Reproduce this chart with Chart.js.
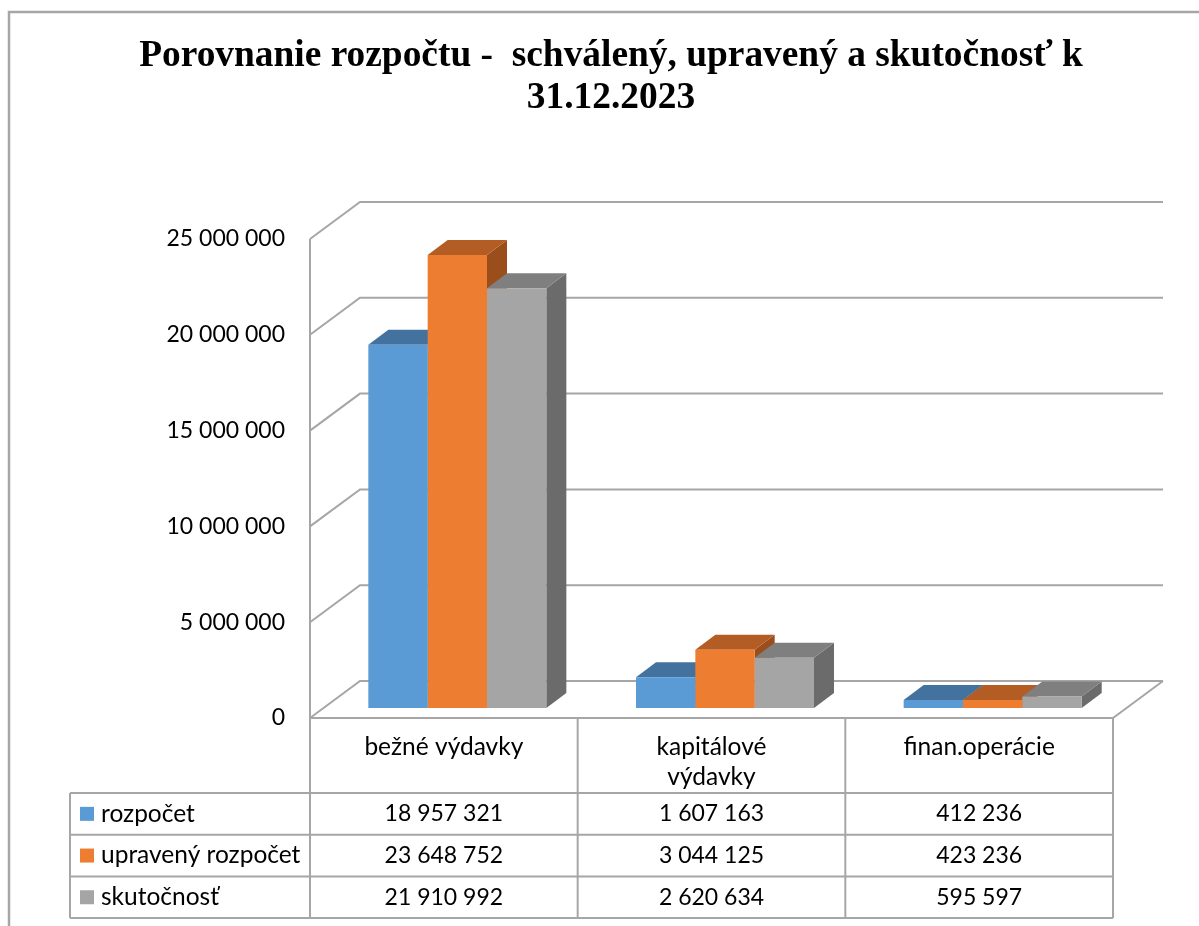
<!DOCTYPE html>
<html>
<head>
<meta charset="utf-8">
<title>Porovnanie rozpočtu</title>
<script src="https://cdn.jsdelivr.net/npm/chart.js@4.4.1/dist/chart.umd.min.js"></script>
<style>
  html, body { margin: 0; padding: 0; background: #fff; }
  #wrap { width: 1199px; height: 926px; }
</style>
</head>
<body>
<div id="wrap"><canvas id="budgetChart" width="1199" height="926"></canvas></div>
<script>
/* Porovnanie rozpočtu — 3D stĺpcový graf s dátovou tabuľkou */
var categories = ['bežné výdavky', ['kapitálové', 'výdavky'], 'finan.operácie'];
var seriesNames = ['rozpočet', 'upravený rozpočet', 'skutočnosť'];
var rozpocet = [18957321, 1607163, 412236];
var upravenyRozpocet = [23648752, 3044125, 423236];
var skutocnost = [21910992, 2620634, 595597];
var yTicks = [0, 5000000, 10000000, 15000000, 20000000, 25000000];

var frontColors = ['#5B9BD5', '#ED7D31', '#A5A5A5'];
var topColors   = ['#44729F', '#B35C24', '#7F7F7F'];
var sideColors  = ['#3A6690', '#9A4E1C', '#6B6B6B'];

var SANS = 'Lato, "Open Sans", sans-serif';
var LINE = '#A6A6A6';

// depth geometry (px)
var BAR_DX = 20, BAR_DY = -15;        // bar depth
var FRONT_DX = -13.5, FRONT_DY = 10;  // front plane relative to bar faces
var BACK_DX = 36.5, BACK_DY = -27;    // back wall relative to bar faces

function fmt(v) {
    return String(v).replace(/\B(?=(\d{3})+(?!\d))/g, ' ');
}

function line(ctx, pts) {
    ctx.beginPath();
    ctx.moveTo(pts[0][0], pts[0][1]);
    for (var i = 1; i < pts.length; i++) ctx.lineTo(pts[i][0], pts[i][1]);
    ctx.stroke();
}

function poly(ctx, pts, color) {
    ctx.beginPath();
    ctx.moveTo(pts[0][0], pts[0][1]);
    for (var i = 1; i < pts.length; i++) ctx.lineTo(pts[i][0], pts[i][1]);
    ctx.closePath();
    ctx.fillStyle = color;
    ctx.fill();
}

var box3d = {
    id: 'box3d',
    beforeDatasetsDraw: function(chart) {
        var ctx = chart.ctx, area = chart.chartArea, y = chart.scales.y;
        var fL = area.left + FRONT_DX, fR = area.right + FRONT_DX;
        var bL = area.left + BACK_DX, bR = area.right + BACK_DX;
        ctx.save();
        ctx.strokeStyle = LINE;
        ctx.lineWidth = 2;
        yTicks.forEach(function(v) {
            var p = y.getPixelForValue(v);
            line(ctx, [[fL, p + FRONT_DY], [bL, p + BACK_DY], [bR, p + BACK_DY]]);
        });
        var top = y.getPixelForValue(yTicks[yTicks.length - 1]);
        var zero = y.getPixelForValue(0);
        line(ctx, [[fL, top + FRONT_DY], [fL, zero + FRONT_DY], [fR, zero + FRONT_DY], [bR, zero + BACK_DY]]);

        // side and top faces of the bars
        chart.data.datasets.forEach(function(ds, di) {
            chart.getDatasetMeta(di).data.forEach(function(bar) {
                var l = bar.x - bar.width / 2, r = bar.x + bar.width / 2;
                poly(ctx, [[r, bar.y], [r + BAR_DX, bar.y + BAR_DY], [r + BAR_DX, bar.base + BAR_DY], [r, bar.base]], sideColors[di]);
                poly(ctx, [[l, bar.y], [r, bar.y], [r + BAR_DX, bar.y + BAR_DY], [l + BAR_DX, bar.y + BAR_DY]], topColors[di]);
            });
        });
        ctx.restore();
    },
    afterDraw: function(chart) {
        var ctx = chart.ctx, area = chart.chartArea, x = chart.scales.x, y = chart.scales.y;
        var zero = y.getPixelForValue(0) + FRONT_DY;
        var fL = area.left + FRONT_DX, fR = area.right + FRONT_DX;
        var colW = (fR - fL) / categories.length;
        var legendL = 70, headBottom = 793, rowH = 41.7;
        var rows = [rozpocet, upravenyRozpocet, skutocnost];
        var tableBottom = headBottom + rowH * rows.length;

        ctx.save();
        // outer frame
        ctx.strokeStyle = LINE;
        ctx.lineWidth = 2.5;
        line(ctx, [[9, 926], [9, 12], [1199, 12]]);

        // table grid
        ctx.lineWidth = 2;
        for (var c = 0; c <= categories.length; c++) {
            line(ctx, [[fL + c * colW, zero], [fL + c * colW, tableBottom]]);
        }
        line(ctx, [[legendL, headBottom], [legendL, tableBottom]]);
        for (var r = 0; r <= rows.length; r++) {
            line(ctx, [[legendL, headBottom + r * rowH], [fR, headBottom + r * rowH]]);
        }

        ctx.fillStyle = '#000';
        ctx.textBaseline = 'middle';
        ctx.textAlign = 'center';
        categories.forEach(function(cat, i) {
            var cx = x.getPixelForValue(i) + FRONT_DX;
            var lines = Array.isArray(cat) ? cat : [cat];
            ctx.font = '24.5px ' + SANS;
            lines.forEach(function(t, k) { ctx.fillText(t, cx, 747 + k * 30); });
            ctx.font = '23px ' + SANS;
            rows.forEach(function(vals, ri) {
                ctx.fillText(fmt(vals[i]), cx, headBottom + rowH * ri + rowH / 2);
            });
        });
        ctx.textAlign = 'left';
        ctx.font = '24.5px ' + SANS;
        seriesNames.forEach(function(name, ri) {
            var cy = headBottom + rowH * ri + rowH / 2;
            ctx.fillStyle = frontColors[ri];
            ctx.fillRect(80, cy - 7, 14, 14);
            ctx.fillStyle = '#000';
            ctx.fillText(name, 101, cy);
        });
        ctx.restore();
    }
};

new Chart(document.getElementById('budgetChart').getContext('2d'), {
    type: 'bar',
    data: {
        labels: categories,
        datasets: [
            { label: seriesNames[0], data: rozpocet, backgroundColor: frontColors[0] },
            { label: seriesNames[1], data: upravenyRozpocet, backgroundColor: frontColors[1] },
            { label: seriesNames[2], data: skutocnost, backgroundColor: frontColors[2] }
        ]
    },
    options: {
        responsive: false,
        animation: false,
        layout: { padding: { left: 95.5, right: 72.5, top: 0, bottom: 218 } },
        datasets: { bar: { categoryPercentage: 0.665, barPercentage: 1, borderWidth: 0 } },
        plugins: {
            legend: { display: false },
            tooltip: { enabled: false },
            title: {
                display: true,
                text: ['Porovnanie rozpočtu -  schválený, upravený a skutočnosť k', '31.12.2023'],
                color: '#000',
                font: { family: '"Liberation Serif", "Times New Roman", serif', size: 37.4, weight: 'bold', lineHeight: 1.123 },
                padding: { top: 35, bottom: 110 }
            }
        },
        scales: {
            x: { display: false },
            y: {
                min: 0,
                max: 25000000,
                afterFit: function(s) { s.width = 228; },
                afterBuildTicks: function(s) { s.ticks = yTicks.map(function(v) { return { value: v }; }); },
                grid: { display: false, drawTicks: false },
                border: { display: false },
                ticks: {
                    color: '#000',
                    font: { family: SANS, size: 23 },
                    padding: 38.5,
                    labelOffset: 10,
                    callback: function(v) { return fmt(v); }
                }
            }
        }
    },
    plugins: [box3d]
});
</script>
</body>
</html>
